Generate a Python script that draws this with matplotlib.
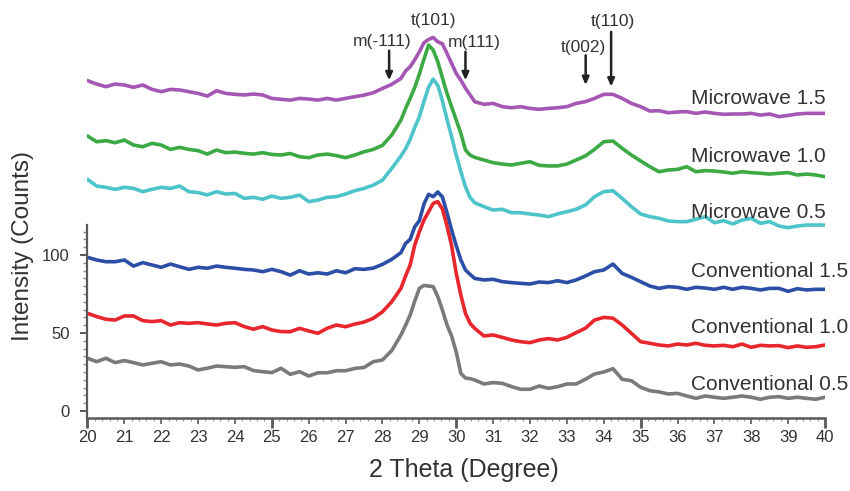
import numpy as np
import matplotlib
matplotlib.use('Agg')
import matplotlib.pyplot as plt
from matplotlib.ticker import MultipleLocator

plt.rcParams['font.family'] = ['Liberation Sans', 'DejaVu Sans']

# 2-theta sampling positions (degrees): a regular 0.25 grid plus extra points across the main peak
two_theta_grid = np.round(np.arange(20.0, 40.0001, 0.25), 2)
two_theta_peak = [28.625, 28.875, 29.125, 29.375, 29.625, 29.875, 30.125, 30.375]

microwave_15 = [211.8, 209.6, 207.9, 209.6, 209.0, 207.5, 209.0, 206.2, 204.7, 206.2,
                205.8, 204.7, 203.6, 201.9, 205.3, 203.6, 203.0, 202.6, 203.2, 202.6,
                200.4, 199.8, 199.3, 200.4, 200.0, 199.3, 200.4, 199.3, 200.4, 201.5,
                202.5, 204.0, 206.8, 209.4, 213.2, 220.7, 230.3, 238.2, 236.7, 229.2,
                216.4, 207.0, 198.3, 196.6, 197.2, 195.1, 194.4, 195.1, 194.0, 193.4,
                194.0, 194.4, 195.1, 197.2, 198.3, 200.4, 203.0, 203.0, 200.4, 197.2,
                195.1, 192.3, 192.5, 191.2, 191.7, 191.9, 190.8, 191.7, 190.8, 190.2,
                190.4, 190.4, 190.8, 189.7, 190.4, 188.7, 189.5, 190.4, 190.8, 190.8,
                190.8]
microwave_15_peak = [217.9, 225.2, 236.1, 239.5, 235.4, 222.8, 212.1, 202.7]

microwave_10 = [176.3, 172.6, 173.3, 172.0, 173.7, 170.5, 169.4, 171.6, 170.5, 167.7,
                169.0, 167.7, 166.9, 164.7, 167.3, 165.6, 166.0, 165.2, 164.7, 165.6,
                164.5, 164.1, 165.1, 163.0, 162.4, 164.1, 164.7, 163.7, 162.4, 164.1,
                166.2, 167.7, 170.3, 176.9, 186.5, 200.4, 216.0, 234.6, 223.9, 203.6,
                186.5, 167.3, 162.6, 160.9, 159.2, 158.3, 157.7, 158.8, 159.8, 157.5,
                157.1, 157.1, 158.3, 160.9, 163.5, 167.7, 172.6, 173.1, 168.4, 164.1,
                160.3, 156.6, 153.4, 154.5, 154.9, 156.6, 153.4, 154.1, 153.8, 153.2,
                152.4, 153.4, 152.8, 152.4, 151.9, 152.4, 152.8, 151.3, 151.9, 151.3,
                150.2]
microwave_10_peak = [193.8, 207.4, 225.6, 231.4, 213.6, 195.0, 178.0, 164.1]

microwave_05 = [148.5, 144.2, 143.4, 142.1, 143.4, 142.7, 140.6, 142.1, 143.4, 142.7,
                144.2, 140.6, 140.0, 138.5, 140.6, 139.1, 139.5, 136.3, 137.0, 135.7,
                137.8, 136.3, 137.0, 138.4, 134.2, 135.2, 137.0, 137.4, 139.1, 141.2,
                142.7, 144.8, 148.0, 155.5, 163.4, 174.1, 188.6, 207.5, 208.7, 186.9,
                164.1, 143.8, 133.5, 131.0, 128.8, 129.3, 127.1, 127.1, 126.3, 125.6,
                124.6, 126.3, 127.8, 129.3, 132.0, 137.4, 140.6, 141.2, 136.3, 131.0,
                126.3, 124.6, 123.5, 121.8, 121.4, 121.4, 122.9, 124.6, 120.7, 122.0,
                119.9, 122.4, 123.5, 120.3, 121.4, 118.6, 117.5, 118.6, 119.2, 119.2,
                119.2]
microwave_05_peak = [168.1, 181.8, 198.5, 212.8, 198.9, 175.8, 153.4, 136.9]

conventional_15 = [98.5, 96.8, 95.7, 95.7, 96.8, 92.9, 95.1, 93.6, 92.1, 94.2,
                   92.5, 90.8, 92.1, 91.5, 92.9, 92.1, 91.5, 90.8, 90.4, 89.3,
                   90.8, 89.3, 87.1, 89.9, 87.8, 88.6, 87.8, 89.9, 88.6, 91.2,
                   90.8, 91.6, 94.0, 97.2, 101.5, 110.0, 122.0, 138.9, 140.4, 127.0,
                   106.0, 90.4, 85.0, 84.0, 84.4, 82.9, 82.3, 81.8, 81.4, 82.7,
                   82.3, 83.5, 82.3, 84.0, 86.5, 89.3, 90.4, 94.2, 88.2, 85.7,
                   82.9, 80.1, 78.6, 79.7, 79.3, 78.0, 79.3, 78.8, 78.0, 79.3,
                   78.0, 79.3, 78.6, 77.6, 78.6, 78.6, 76.7, 78.4, 77.6, 78.0,
                   78.0]
conventional_15_peak = [107.4, 118.1, 132.7, 137.4, 137.2, 116.0, 96.8, 87.6]

conventional_10 = [62.6, 60.5, 58.8, 58.3, 60.9, 60.9, 57.9, 57.3, 57.9, 55.1,
                   56.6, 56.2, 56.6, 55.8, 55.1, 56.2, 56.6, 54.1, 52.4, 54.1,
                   51.9, 50.9, 50.8, 53.0, 51.3, 49.8, 53.0, 55.1, 54.0, 55.7,
                   57.0, 59.4, 63.6, 70.0, 78.6, 93.6, 114.9, 127.7, 134.2, 118.6,
                   88.2, 62.6, 53.0, 48.1, 48.7, 47.2, 45.5, 44.4, 43.8, 45.5,
                   46.4, 45.5, 47.2, 50.2, 53.0, 58.3, 60.0, 59.5, 55.1, 49.8,
                   44.4, 43.4, 42.3, 41.7, 42.9, 42.3, 43.4, 42.1, 41.7, 42.1,
                   41.2, 42.9, 40.8, 42.1, 41.7, 41.9, 40.6, 41.7, 40.8, 41.2,
                   42.3]
conventional_10_peak = [86.5, 106.4, 122.4, 133.1, 129.5, 106.0, 74.3, 56.2]

conventional_05 = [33.8, 31.6, 33.8, 31.0, 32.3, 31.0, 29.5, 30.6, 31.6, 29.5,
                   30.1, 28.8, 26.3, 27.4, 28.8, 28.4, 28.0, 28.4, 25.9, 25.2,
                   24.6, 27.4, 23.5, 25.2, 22.4, 24.5, 24.5, 25.8, 25.8, 27.3,
                   27.9, 31.6, 32.7, 38.7, 48.7, 61.5, 78.6, 80.1, 73.3, 55.1,
                   37.8, 21.1, 19.9, 17.3, 18.2, 17.7, 15.6, 13.9, 13.9, 16.0,
                   14.5, 15.6, 17.3, 17.3, 20.3, 23.7, 25.0, 27.1, 20.3, 19.4,
                   15.2, 13.0, 12.2, 10.9, 11.3, 9.6, 8.1, 9.6, 8.8, 8.1,
                   8.8, 9.6, 8.8, 7.5, 8.8, 9.2, 8.1, 8.8, 8.1, 7.5,
                   8.8]
conventional_05_peak = [54.9, 70.5, 80.5, 79.7, 64.7, 48.0, 24.1, 20.7]

series_names = ['Microwave 1.5', 'Microwave 1.0', 'Microwave 0.5',
                'Conventional 1.5', 'Conventional 1.0', 'Conventional 0.5']
series_values = [microwave_15, microwave_10, microwave_05,
                 conventional_15, conventional_10, conventional_05]
series_peak_values = [microwave_15_peak, microwave_10_peak, microwave_05_peak,
                      conventional_15_peak, conventional_10_peak, conventional_05_peak]
series_colors = ['#a457b3', '#3caa44', '#4dc4ca', '#2b4ea6', '#e8262d', '#7a7a7a']
label_x = 36.37
label_y = [196.6, 159.8, 123.7, 86.1, 49.8, 13.5]

peak_labels = ['m(-111)', 't(101)', 'm(111)', 't(002)', 't(110)']
peak_text_x = [27.99, 29.39, 30.50, 33.46, 34.24]
peak_text_y = [236.7, 250.6, 236.2, 233.0, 249.5]

arrow_x = [28.18, 30.25, 33.51, 34.20]
arrow_top = [231.0, 230.3, 228.0, 243.0]
arrow_tip = [212.0, 212.0, 209.0, 208.0]

x_ticks = list(range(20, 41))
y_ticks = [0, 50, 100]

text_color = '#333333'
axis_color = '#5a5a5a'

# merge regular grid and peak-region samples in 2-theta order
x_all = np.concatenate([two_theta_grid, two_theta_peak])
order = np.argsort(x_all, kind='stable')
x_sorted = x_all[order]

fig = plt.figure(figsize=(8.5, 4.91), dpi=100)
ax = fig.add_axes([0.1029, 0.1487, 0.8677, 0.8148])

for vals, pvals, col in zip(series_values, series_peak_values, series_colors):
    y_sorted = np.concatenate([vals, pvals])[order]
    ax.plot(x_sorted, y_sorted, color=col, lw=2.6, solid_joinstyle='round',
            solid_capstyle='round')

for name, yy in zip(series_names, label_y):
    ax.text(label_x, yy, name, fontsize=15, ha='left', va='baseline', color=text_color)

for lab, tx, ty in zip(peak_labels, peak_text_x, peak_text_y):
    ax.text(tx, ty, lab, fontsize=12.5, ha='center', va='center', color=text_color)

for axx, top, tip in zip(arrow_x, arrow_top, arrow_tip):
    ax.annotate('', xy=(axx, tip), xytext=(axx, top),
                arrowprops=dict(arrowstyle='-|>,head_length=0.45,head_width=0.2',
                                color='#222222', lw=1.8, shrinkA=0, shrinkB=0))

ax.set_xlim(20, 40)
ax.set_ylim(-4.5, 252)

for s in ['top', 'right']:
    ax.spines[s].set_visible(False)
ax.spines['left'].set_bounds(-4.5, 119)
ax.spines['left'].set_color(axis_color)
ax.spines['left'].set_linewidth(1.6)
ax.spines['bottom'].set_color(axis_color)
ax.spines['bottom'].set_linewidth(1.8)

ax.set_xticks(x_ticks)
ax.set_xticklabels([str(t) for t in x_ticks])
ax.xaxis.set_minor_locator(MultipleLocator(0.2))
ax.set_yticks(y_ticks)
ax.set_yticklabels([str(t) for t in y_ticks])
ax.set_yticks(list(range(0, 120, 5)), minor=True)

ax.tick_params(axis='x', which='major', length=4, width=1.2, color=axis_color,
               labelsize=12, labelcolor=text_color, pad=5, direction='out')
ax.tick_params(axis='x', which='minor', length=2.5, width=0.8, color='#999999',
               direction='out')
ax.tick_params(axis='y', which='major', length=5, width=1.4, color=axis_color,
               labelsize=12, labelcolor=text_color, pad=8, direction='out')
ax.tick_params(axis='y', which='minor', length=3, width=1.0, color='#888888',
               direction='out')

for t, v in zip(ax.xaxis.get_major_ticks(), x_ticks):
    if v % 5 == 0:
        t.tick1line.set_markersize(7)
        t.tick1line.set_markeredgewidth(2.0)

ax.set_xlabel('2 Theta (Degree)', fontsize=18, color=text_color)
ax.xaxis.label.set_va('center')
ax.xaxis.set_label_coords(0.5105, -0.13)
ax.set_ylabel('Intensity (Counts)', fontsize=17.5, color=text_color)
ax.yaxis.label.set_va('center')
ax.yaxis.set_label_coords(-0.0875, 0.4307)

fig.savefig('out.png', dpi=100)
